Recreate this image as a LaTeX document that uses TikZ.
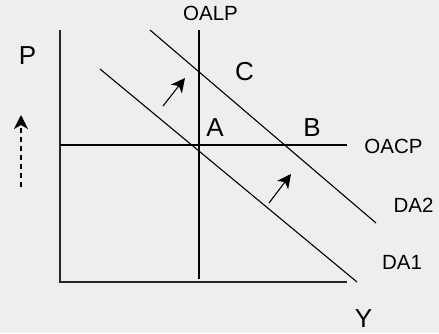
\documentclass[tikz,border=0pt]{standalone}
\usepackage{fontspec}
\setmainfont{Liberation Sans}
\usetikzlibrary{arrows.meta}
\definecolor{bgcol}{HTML}{EEEEEE}

\begin{document}
\begin{tikzpicture}[>={Stealth[length=14pt,width=14pt,inset=4pt]},x=1pt,y=-1pt,
    small/.style={inner sep=0pt,font=\fontsize{20.5}{24}\selectfont},
    big/.style={inner sep=0pt,font=\fontsize{26}{30}\selectfont},
    curve/.style={line width=1.1pt}]
			\fill[bgcol] (0,0) rectangle (439,333);
			\useasboundingbox (0,0) rectangle (439,333);
			% Axes
			\draw[line width=1.4pt, black!85] (60,30) -- (60,282) --++(287,0);
			% Long run and short run supply
			\draw[curve] (199,30) -- (199,279);
			\draw[curve] (60,145) -- (347,145);
			% Demand curves
			\draw[curve] (100,69) -- (357,282);
			\draw[curve] (150,30) -- (376,223);
			% Shift arrows
			\draw[->, curve] (163,106) -- (185,78);
			\draw[->, curve] (269,203) -- (291,174);
			\draw[->, curve, dash pattern=on 5pt off 4pt] (21,187) -- (21,115);
			% Labels
			\node[small] (oalp) at (210.5,13.5) {OALP};
			\node[big] (p) at (27.5,55.5) {P};
			\node[big] (c) at (244.5,71.5) {C};
			\node[big] (a) at (215,127.5) {A};
			\node[big] (b) at (312,127.5) {B};
			\node[small] (oacp) at (393.5,146.5) {OACP};
			\node[small] (da2) at (413.5,205.5) {DA2};
			\node[small] (da1) at (402,262.5) {DA1};
			\node[big] (y) at (363.5,319) {Y};
\end{tikzpicture}
\end{document}
